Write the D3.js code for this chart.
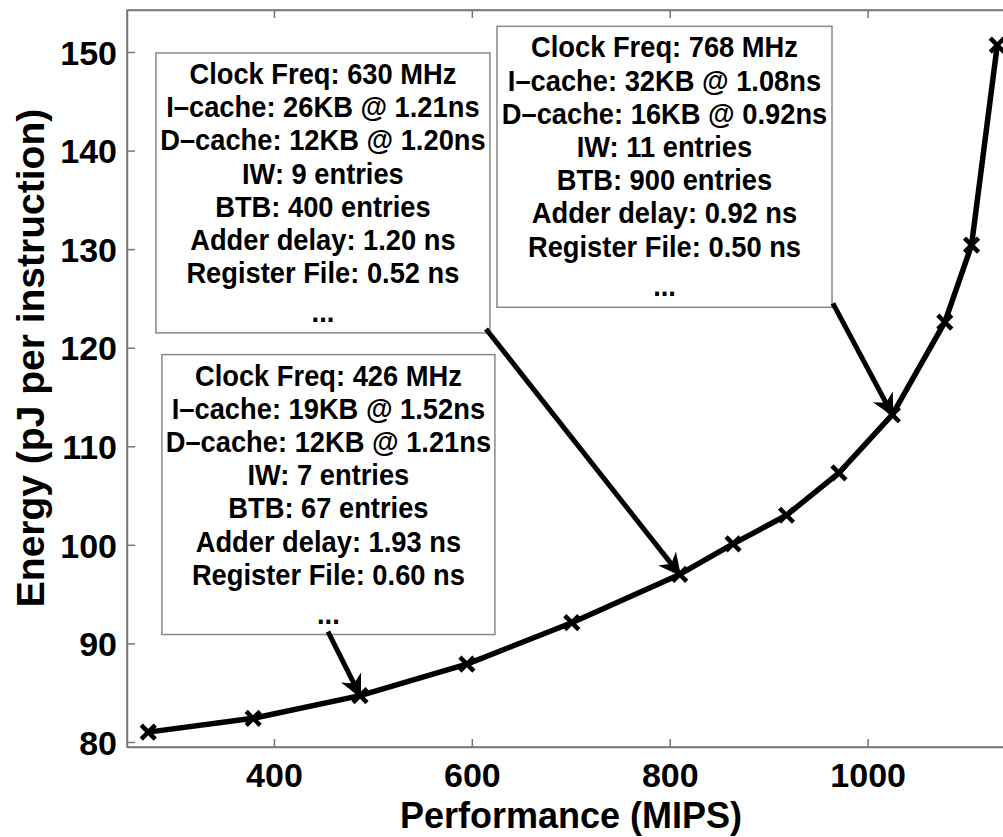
<!DOCTYPE html>
<html>
<head>
<meta charset="utf-8">
<script src="https://cdn.jsdelivr.net/npm/d3@7"></script>
<style>
  body { margin: 0; background: #fff; }
  svg { display: block; }
</style>
</head>
<body>
<div id="chart"></div>
<script>
// performance (MIPS) vs energy (pJ per instruction)
var perf   = [273, 379, 487, 595, 701, 810, 864, 918, 971, 1025, 1078, 1105, 1131];
var energy = [81.0, 82.4, 84.7, 87.9, 92.1, 97.0, 100.1, 103.0, 107.3, 113.2, 122.6, 130.4, 150.7];

var xTicks = [400, 600, 800, 1000];
var yTicks = [80, 90, 100, 110, 120, 130, 140, 150];

// annotation boxes (data units): left, top, right, bottom
var boxes = [
  { x0: 280.7, y0: 149.9, x1: 618.3, y1: 121.5,
    lines: ["Clock Freq: 630 MHz", "I\u2013cache: 26KB @ 1.21ns", "D\u2013cache: 12KB @ 1.20ns",
            "IW: 9 entries", "BTB: 400 entries", "Adder delay: 1.20 ns", "Register File: 0.52 ns", "..."] },
  { x0: 286.8, y0: 119.3, x1: 623.3, y1: 90.9,
    lines: ["Clock Freq: 426 MHz", "I\u2013cache: 19KB @ 1.52ns", "D\u2013cache: 12KB @ 1.21ns",
            "IW: 7 entries", "BTB: 67 entries", "Adder delay: 1.93 ns", "Register File: 0.60 ns", "..."] },
  { x0: 625.4, y0: 152.6, x1: 964.0, y1: 124.1,
    lines: ["Clock Freq: 768 MHz", "I\u2013cache: 32KB @ 1.08ns", "D\u2013cache: 16KB @ 0.92ns",
            "IW: 11 entries", "BTB: 900 entries", "Adder delay: 0.92 ns", "Register File: 0.50 ns", "..."] }
];

// arrows: tail -> point index on the curve
var arrows = [
  { tx: 614.3, ty: 121.9, idx: 5 },
  { tx: 454.6, ty: 91.2, idx: 2 },
  { tx: 964.9, ty: 124.5, idx: 9 }
];

var width = 1003, height = 837;
var margin = { top: 10, left: 127, bottom: 90 };

var svg = d3.select("#chart").append("svg")
  .attr("width", width)
  .attr("height", height)
  .attr("font-family", "'Liberation Sans', Arial, sans-serif")
  .attr("font-weight", "bold");

var x = d3.scaleLinear()
  .domain([251.5, 1150])
  .range([margin.left, margin.left + 898.5 * 0.9895]);

var y = d3.scaleLinear()
  .domain([79.49, 154.26])
  .range([height - margin.bottom, margin.top]);

var plotW = x.range()[1] - x.range()[0];
var plotH = y.range()[0] - y.range()[1];

// frame
svg.append("rect")
  .attr("x", x.range()[0]).attr("y", y.range()[1])
  .attr("width", plotW).attr("height", plotH)
  .attr("fill", "none").attr("stroke", "#777").attr("stroke-width", 1.5);

// axes (inward ticks, matlab-ish)
var xAxis = svg.append("g")
  .attr("transform", `translate(0,${y.range()[0]})`)
  .call(d3.axisBottom(x).tickValues(xTicks).tickFormat(d3.format("d"))
    .tickSizeInner(-8).tickSizeOuter(0).tickPadding(14));

var xTop = svg.append("g")
  .attr("transform", `translate(0,${y.range()[1]})`)
  .call(d3.axisTop(x).tickValues(xTicks).tickSizeInner(-8).tickSizeOuter(0).tickFormat(""));

var yAxis = svg.append("g")
  .attr("transform", `translate(${x.range()[0]},0)`)
  .call(d3.axisLeft(y).tickValues(yTicks).tickSizeInner(-8).tickSizeOuter(0).tickPadding(10));

[xAxis, xTop, yAxis].forEach(function(g) {
  g.select(".domain").attr("stroke", "#777").attr("stroke-width", 1.5);
  g.selectAll(".tick line").attr("stroke", "#777").attr("stroke-width", 1.5);
  g.selectAll("text")
    .attr("fill", "#000")
    .attr("font-family", "'Liberation Sans', Arial, sans-serif")
    .attr("font-weight", "bold")
    .attr("font-size", 34);
});
yAxis.selectAll("text").attr("dy", "0.36em");
xAxis.selectAll("text").attr("dy", "0.75em");

// axis labels
svg.append("text")
  .attr("x", 571)
  .attr("y", 828)
  .attr("text-anchor", "middle")
  .attr("font-size", 36)
  .text("Performance (MIPS)");

svg.append("text")
  .attr("transform", `translate(44,358) rotate(-90)`)
  .attr("text-anchor", "middle")
  .attr("font-size", 39)
  .text("Energy (pJ per instruction)");

// annotation boxes
boxes.forEach(function(b) {
  var g = svg.append("g");
  var left = x(b.x0), top = y(b.y0), right = x(b.x1), bottom = y(b.y1);
  g.append("rect")
    .attr("x", left).attr("y", top)
    .attr("width", right - left).attr("height", bottom - top)
    .attr("fill", "#fff").attr("stroke", "#888").attr("stroke-width", 1.5);
  // text in the original is a little taller than Liberation, stretch it a bit
  g.selectAll("text").data(b.lines).join("text")
    .attr("transform", (d, i) =>
      `translate(${(left + right) / 2},${top + 31 + i * 33.2 + (d == "..." ? 6 : 0)}) scale(1,1.1)`)
    .attr("text-anchor", "middle")
    .attr("font-size", 27.3)
    .text(d => d);
});

// arrows
var defs = svg.append("defs");
defs.append("marker")
  .attr("id", "head")
  .attr("viewBox", "0 0 10 10")
  .attr("refX", 9).attr("refY", 5)
  .attr("markerWidth", 5).attr("markerHeight", 4.5)
  .attr("markerUnits", "strokeWidth")
  .attr("orient", "auto")
  .append("path")
  .attr("d", "M0,0 L10,5 L0,10 L3,5 Z")
  .attr("fill", "#000");

arrows.forEach(function(a) {
  svg.append("line")
    .attr("x1", x(a.tx)).attr("y1", y(a.ty))
    .attr("x2", x(perf[a.idx])).attr("y2", y(energy[a.idx]))
    .attr("stroke", "#000").attr("stroke-width", 5)
    .attr("marker-end", "url(#head)");
});

// curve
var pts = perf.map((p, i) => [p, energy[i]]);

svg.append("path")
  .datum(pts)
  .attr("fill", "none")
  .attr("stroke", "#000")
  .attr("stroke-width", 5.5)
  .attr("stroke-linejoin", "round")
  .attr("d", d3.line().x(d => x(d[0])).y(d => y(d[1])));

// x markers
svg.selectAll(".mk")
  .data(pts)
  .join("path")
  .attr("class", "mk")
  .attr("transform", d => `translate(${x(d[0])},${y(d[1])})`)
  .attr("d", "M-7,-7L7,7M-7,7L7,-7")
  .attr("stroke", "#000")
  .attr("stroke-width", 4.5);
</script>
</body>
</html>
